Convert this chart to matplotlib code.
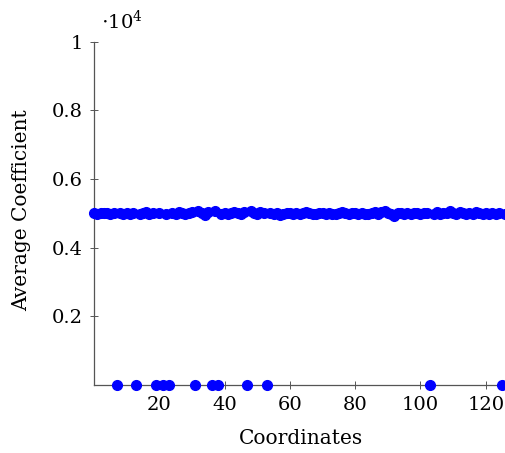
import matplotlib.pyplot as plt

plt.rcParams['font.family'] = ['DejaVu Serif']
plt.rcParams['mathtext.fontset'] = 'dejavuserif'

# coordinate index and average coefficient
coords = list(range(128))
avg_coef = [
    5000, 4990, 5010, 5020, 5000, 4980, 5010, 0, 5020, 4990,
    5000, 4970, 5010, 0, 4990, 5000, 5030, 4980, 5000, 0,
    5010, 0, 4990, 0, 5020, 4980, 5030, 5000, 4970, 5010,
    5040, 0, 5080, 5010, 4960, 5040, 0, 5060, 0, 4990,
    5000, 4970, 5020, 5050, 5000, 4980, 5030, 0, 5060, 5010,
    4970, 5040, 5010, 0, 5000, 4980, 5010, 4960, 4990, 5010,
    5020, 4980, 5000, 4970, 5010, 5030, 5000, 4990, 4980, 5010,
    5020, 4990, 5000, 4970, 4980, 5000, 5030, 5010, 4970, 5000,
    5010, 4990, 5020, 4970, 4980, 5000, 5040, 4990, 5030, 5070,
    5010, 4980, 4930, 5000, 5020, 4970, 5010, 4990, 5000, 5010,
    4980, 5020, 5000, 0, 4990, 5030, 4980, 5010, 5000, 5070,
    5020, 4990, 5040, 5000, 4980, 5010, 4990, 5050, 5000, 4970,
    5010, 4990, 5020, 4980, 5000, 0, 4990, 5010,
]
x_ticks = [20, 40, 60, 80, 100, 120]
y_ticks = [2000, 4000, 6000, 8000, 10000]
y_tick_labels = ['0.2', '0.4', '0.6', '0.8', '1']

fig = plt.figure(figsize=(5.05, 4.53), dpi=100)
# the right part of the axis runs past the figure edge, like the reference crop
ax = fig.add_axes([0.1861, 0.1512, 0.8211, 0.7561])

ax.plot(coords, avg_coef, linestyle='none', marker='o', markersize=7,
        color='#0000ff', clip_on=False, zorder=3)

ax.set_xlim(0, 127)
ax.set_ylim(0, 10000)
ax.set_xticks(x_ticks)
ax.set_xticklabels([str(t) for t in x_ticks])
ax.set_yticks(y_ticks)
ax.set_yticklabels(y_tick_labels)

for side in ['top', 'right']:
    ax.spines[side].set_visible(False)
for side in ['left', 'bottom']:
    ax.spines[side].set_color('#555555')
    ax.spines[side].set_linewidth(0.9)

ax.tick_params(direction='inout', length=6, width=0.7, color='#555555',
               labelsize=14, pad=5)

fig.text(301 / 505, 1 - 438 / 453, 'Coordinates', ha='center', va='center',
         fontsize=14.5)
fig.text(22 / 505, 1 - 210 / 453, 'Average Coefficient', ha='center',
         va='center', rotation=90, fontsize=14.5)
fig.text(101 / 505, 1 - 29 / 453, r'$\cdot$10$^4$', ha='left',
         va='baseline', fontsize=14)

fig.savefig('out.png', dpi=100)
